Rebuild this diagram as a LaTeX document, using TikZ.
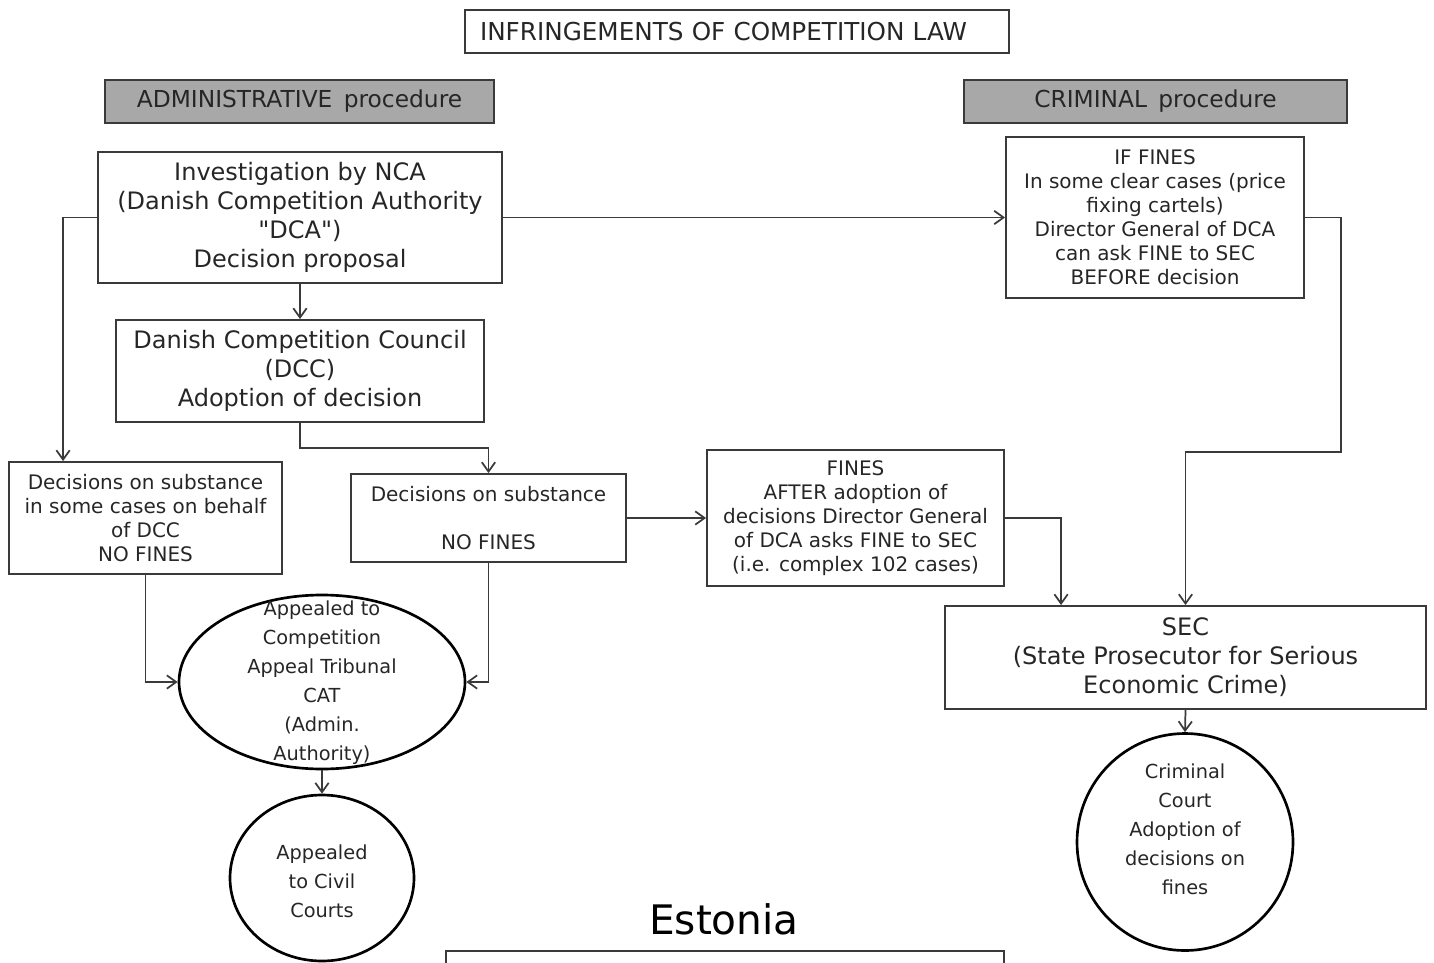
\documentclass[tikz,border=0pt]{standalone}
\usepackage{fontspec}
\setmainfont{DejaVu Sans}
\usetikzlibrary{shapes.geometric,arrows.meta}
\definecolor{linec}{HTML}{3A3A3A}
\definecolor{textc}{HTML}{262626}
\definecolor{headc}{HTML}{A8A8A8}
\tikzset{
  box/.style={draw=linec, line width=1.4pt, inner sep=0pt, align=center, text=textc},
  big/.style={font=\fontsize{18}{21.75}\selectfont},
  small/.style={font=\fontsize{15}{18}\selectfont},
  oval/.style={ellipse, draw=black, line width=2pt, inner sep=0pt},
  ovaltext/.style={align=center, text=textc, font=\fontsize{14.5}{21.75}\selectfont},
  conn/.style={draw=linec, line width=1.3pt, -{Straight Barb[length=7pt,width=10pt]}}
}
\begin{document}
\begin{tikzpicture}[x=0.75pt, y=-0.75pt]
        \useasboundingbox (0,0) rectangle (1434,963);
        % headers
        \node [box, big, font=\fontsize{18.5}{22}\selectfont, align=left, text width=385.5pt, inner xsep=11.25pt, minimum height=32.25pt] (title) at (737,31.5) {INFRINGEMENTS OF COMPETITION LAW};
        \node [box, big, fill=headc, font=\fontsize{17.5}{21}\selectfont, minimum width=291.75pt, minimum height=32.25pt] (admin) at (299.5,101.5) {ADMINISTRATIVE\ \,procedure};
        \node [box, big, fill=headc, font=\fontsize{17.5}{21}\selectfont, minimum width=287.25pt, minimum height=32.25pt] (crim) at (1155.5,101.5) {CRIMINAL\ \,procedure};
        % administrative side
        \node [box, big, minimum width=303pt, minimum height=98.25pt] (nca) at (300,217.5) {Investigation by NCA\\(Danish Competition Authority\\\textquotedbl DCA\textquotedbl)\\Decision proposal};
        \node [box, big, minimum width=276pt, minimum height=76.5pt] (dcc) at (300,371) {Danish Competition Council\\(DCC)\\Adoption of decision};
        \node [box, small, minimum width=204.75pt, minimum height=84pt] (decl) at (145.5,518) {Decisions on substance\\in some cases on behalf\\of DCC\\NO FINES};
        \node [box, small, minimum width=206.25pt, minimum height=66pt] (decm) at (488.5,518) {Decisions on substance\\[18pt]NO FINES};
        \node [oval, minimum width=214.5pt, minimum height=130.5pt] (cat) at (322,682) {};
        \node [ovaltext] (cattext) at (322,683) {Appealed to\\Competition\\Appeal Tribunal\\CAT\\(Admin.\\Authority)};
        \node [oval, minimum width=138pt, minimum height=124.5pt] (civil) at (322,878) {};
        \node [ovaltext] (civiltext) at (322,881) {Appealed\\to Civil\\Courts};
        % criminal side
        \node [box, small, minimum width=223.5pt, minimum height=120.75pt] (iffines) at (1155,217.5) {IF FINES\\In some clear cases (price\\fixing cartels)\\Director General of DCA\\can ask FINE to SEC\\BEFORE decision};
        \node [box, small, minimum width=222.75pt, minimum height=102pt] (fines) at (855.5,518) {FINES\\AFTER adoption of\\decisions Director General\\of DCA asks FINE to SEC\\(i.e. complex 102 cases)};
        \node [box, big, minimum width=360.75pt, minimum height=77.25pt] (sec) at (1185.5,657.5) {SEC\\(State Prosecutor for Serious\\Economic Crime)};
        \node [oval, minimum width=162pt, minimum height=162.75pt] (court) at (1185,842) {};
        \node [ovaltext] (courttext) at (1185,829) {Criminal\\Court\\Adoption of\\decisions on\\fines};
        % bottom, cut off
        \node [text=black, font=\fontsize{30.5}{36}\selectfont] (estonia) at (724,919) {Estonia};
        \draw [draw=linec, line width=1.4pt] (446,963) |- (1004,951) -- (1004,963);
        % connectors
        \draw [conn] (nca.south) -- (dcc.north);
        \draw [conn] (nca.east) -- (iffines.west);
        \draw [conn] (nca.west) -| ([xshift=41.25pt]decl.north west);
        \draw [conn] (dcc.south) -- ++(0,25) -| (decm.north);
        \draw [conn] (decm.east) -- (fines.west);
        \draw [conn] (fines.east) -| ([xshift=87.75pt]sec.north west);
        \draw [conn] (iffines.east) -- ++(36,0) -- ++(0,234.5) -| (sec.north);
        \draw [conn] (decl.south) |- (cat.west);
        \draw [conn] (decm.south) |- (cat.east);
        \draw [conn] (cat.south) -- (civil.north);
        \draw [conn] (sec.south) -- (court.north);
      \end{tikzpicture}
\end{document}
